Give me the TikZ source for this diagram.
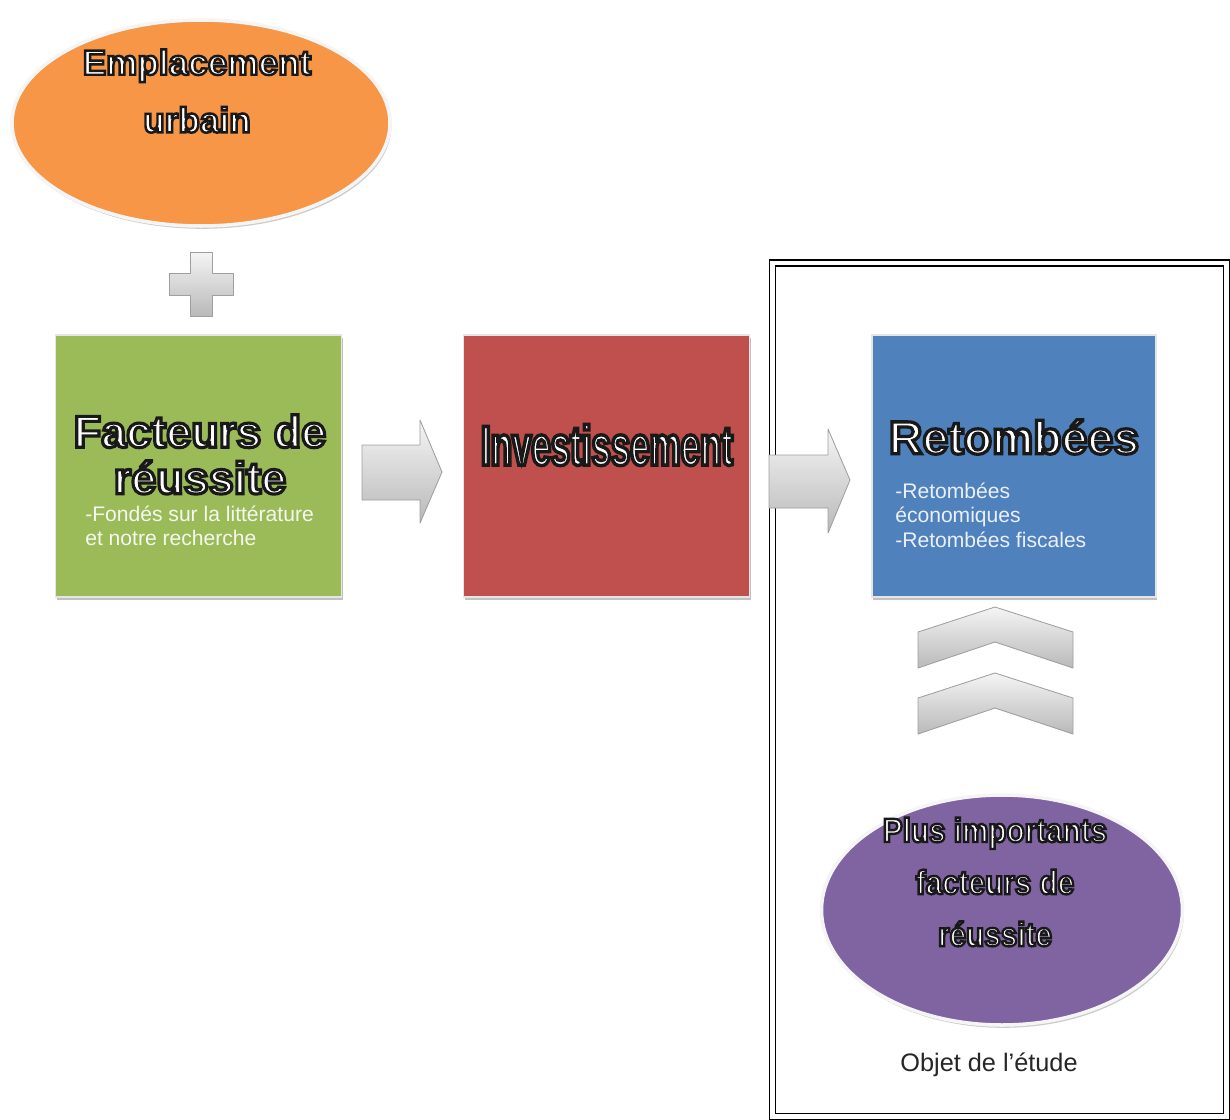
\documentclass[tikz,border=0pt]{standalone}
\usepackage{fontspec}
\setmainfont{Liberation Sans}
\newfontfamily\outlfont[FakeBold=7]{Liberation Sans Bold}
\newfontfamily\narrowfont[FakeBold=7,FakeStretch=0.88]{Liberation Sans Bold}
\newfontfamily\condfont[FakeBold=6,FakeStretch=0.62]{Liberation Sans Bold}
\usetikzlibrary{shapes.geometric,shadows}

\definecolor{orangeoff}{HTML}{F79646}
\definecolor{greenoff}{HTML}{9BBB59}
\definecolor{redoff}{HTML}{C0504D}
\definecolor{blueoff}{HTML}{4F81BD}
\definecolor{purpleoff}{HTML}{8064A2}

% white letters, dark stroke
\newcommand{\outl}[1]{\special{pdf:literal direct 0.1 G}#1}

\begin{document}
\begin{tikzpicture}[
        box/.style={rectangle, draw=gray!20, line width=1.2pt, minimum width=7.15cm, minimum height=6.55cm, drop shadow={shadow xshift=0.8pt, shadow yshift=-1.8pt, fill=gray!80, opacity=0.6}},
        oval/.style={ellipse, draw=gray!8, line width=2.5pt, drop shadow={shadow xshift=1pt, shadow yshift=-2pt, fill=gray!80, opacity=0.5}},
        title/.style={text=white, font=\outlfont\fontsize{32}{33}\selectfont, align=center, inner sep=0pt},
        note/.style={font=\fontsize{15}{17.5}\selectfont, align=left, inner sep=0pt},
        blockarrow/.style={draw=gray!75, top color=gray!8, bottom color=gray!55, line width=0.6pt, line join=round}
    ]
    \fill[white] (0,0) rectangle (30.75,-27.975);
    \useasboundingbox (0,0) rectangle (30.75,-27.975);

    % Study frame
    \node[draw, line width=0.8pt, double, double distance=0.12cm, minimum width=11.34cm, minimum height=21.33cm, inner sep=0pt] (etude) at (24.99,-17.24) {};

    % Emplacement
    \node[oval, fill=orangeoff, minimum width=9.45cm, minimum height=5.15cm] (urbain) at (5.025,-3.075) {};
    \node[title, font=\outlfont\fontsize{25}{41}\selectfont] (urbaintxt) at (4.925,-2.275) {\outl{Emplacement}\\\outl{urbain}};

    % Plus sign
    \path[blockarrow] (4.75,-6.3) -- (5.3,-6.3) -- (5.3,-6.825) -- (5.825,-6.825) -- (5.825,-7.375) -- (5.3,-7.375) -- (5.3,-7.9) -- (4.75,-7.9) -- (4.75,-7.375) -- (4.225,-7.375) -- (4.225,-6.825) -- (4.75,-6.825) -- cycle;

    % Boxes
    \node[box, fill=greenoff] (facteurs) at (4.96,-11.65) {};
    \node[box, fill=redoff] (invest) at (15.16,-11.65) {};
    \node[box, fill=blueoff, minimum width=7.1cm] (retombees) at (25.35,-11.65) {};

    \node[title] (facteurstxt) at (5.0,-11.36) {\outl{Facteurs de}\\\outl{réussite}};
    \node[note, text=white!90!greenoff, anchor=west] (facteursnote) at (2.125,-13.15) {-Fondés sur la littérature\\et notre recherche};

    \node[title, font=\condfont\fontsize{40}{46}\selectfont] (investtxt) at (15.175,-11.125) {\outl{Investissement}};

    \node[title, font=\outlfont\fontsize{33}{34}\selectfont] (retombeestxt) at (25.35,-10.925) {\outl{Retombées}};
    \node[note, text=white!88!blueoff, anchor=west] (retombeesnote) at (22.375,-12.875) {-Retombées\\économiques\\-Retombées fiscales};

    % Block arrows
    \path[blockarrow] (9.05,-11.125) -- (10.5,-11.125) -- (10.5,-10.5) -- (11.05,-11.8) -- (10.5,-13.075) -- (10.5,-12.5) -- (9.05,-12.5) -- cycle;
    \path[blockarrow] (19.225,-11.375) -- (20.7,-11.375) -- (20.7,-10.725) -- (21.25,-12.0) -- (20.7,-13.325) -- (20.7,-12.7) -- (19.225,-12.7) -- cycle;

    % Chevrons
    \foreach \dy in {0,1.65} {
        \path[blockarrow, yshift=-\dy cm] (22.95,-15.8) -- (24.875,-15.175) -- (26.825,-15.8) -- (26.825,-16.7) -- (24.875,-16.05) -- (22.95,-16.7) -- cycle;
    }

    % Main factors
    \node[oval, fill=purpleoff, minimum width=9.025cm, minimum height=5.75cm] (plus) at (25.05,-22.75) {};
    \node[title, font=\narrowfont\fontsize{24}{37}\selectfont] (plustxt) at (24.875,-22.05) {\outl{Plus importants}\\\outl{facteurs de}\\\outl{réussite}};

    \node[font=\fontsize{18}{20}\selectfont, text=black!85] (etudetxt) at (24.725,-26.625) {Objet de l’étude};

\end{tikzpicture}
\end{document}
